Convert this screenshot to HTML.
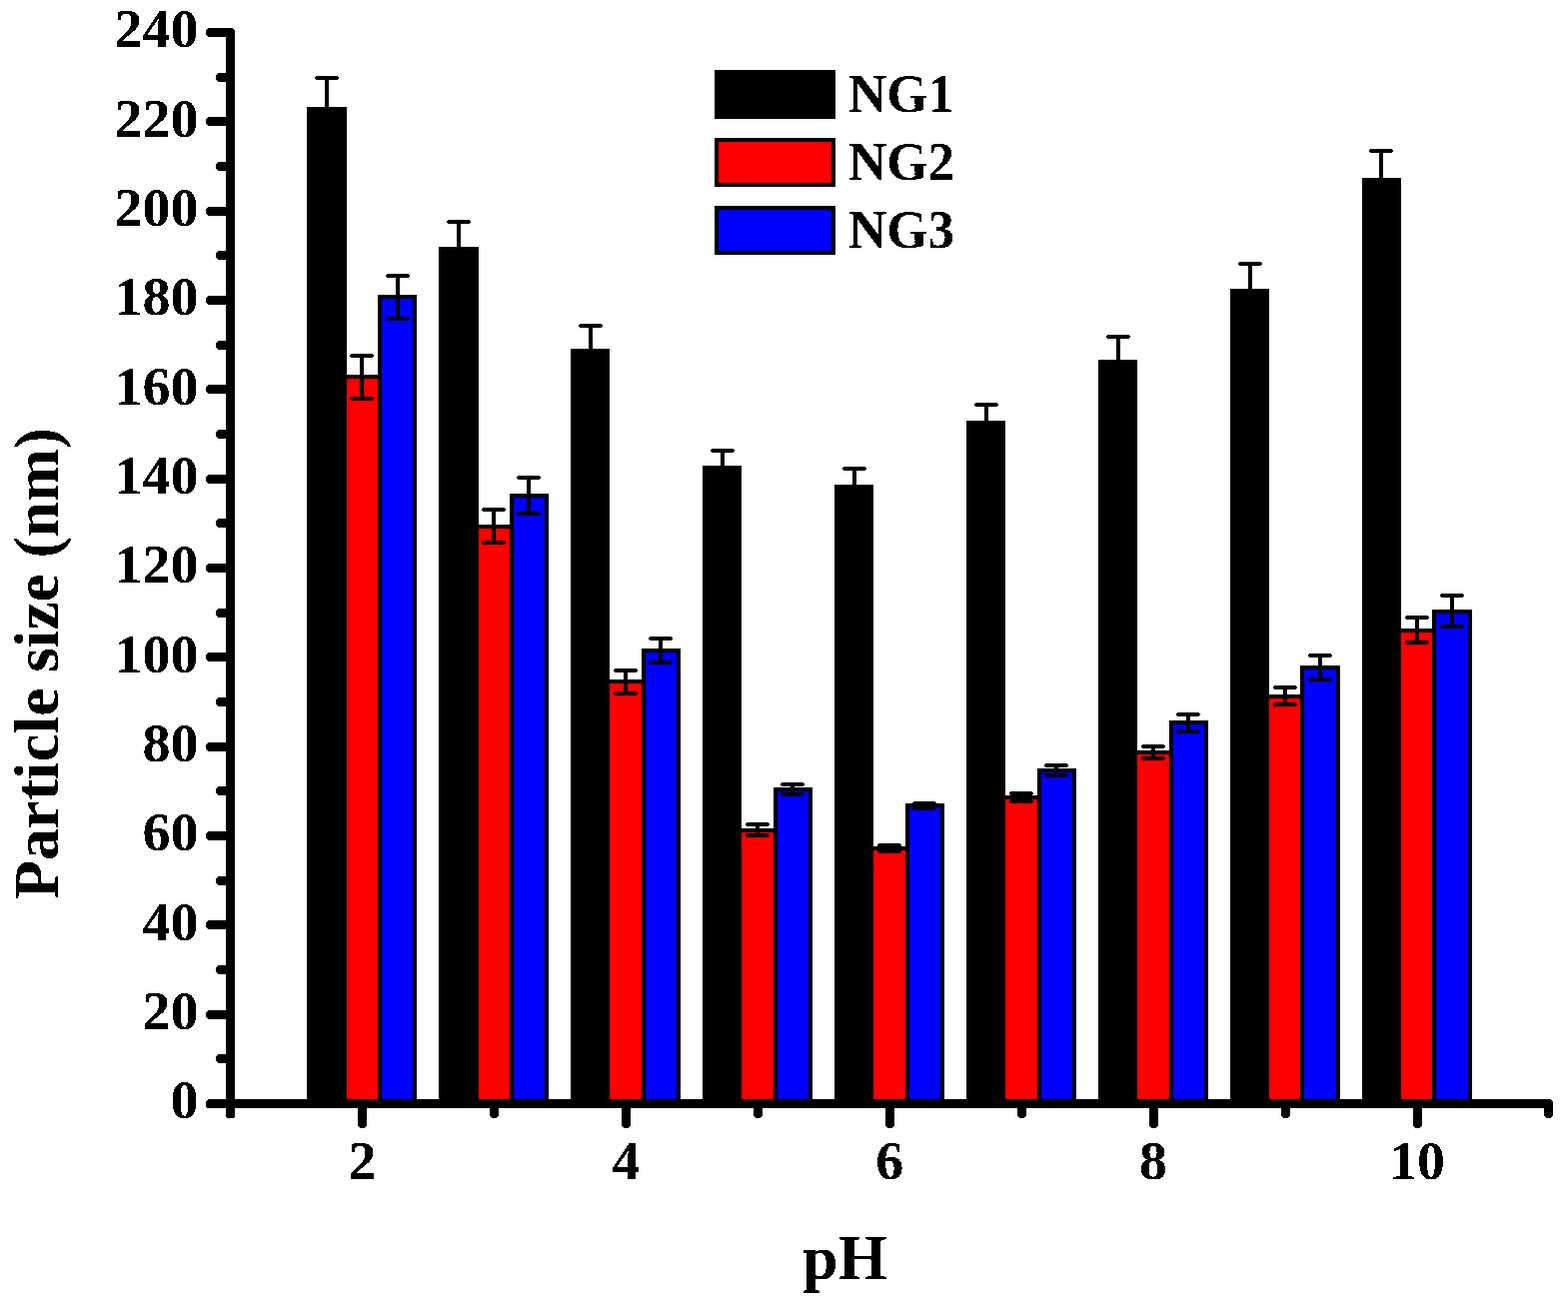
<!DOCTYPE html>
<html><head><meta charset="utf-8"><title>Particle size vs pH</title>
<style>
html,body{margin:0;padding:0;background:#fff;}
svg{display:block;}
text{font-family:"Liberation Serif","Times New Roman",serif;font-weight:bold;fill:#000;filter:url(#crisp);}
.t{font-size:53px;}
.a{font-size:63.4px;}
.l{font-size:53px;}
</style></head><body>
<svg width="1569" height="1309" viewBox="0 0 1569 1309" shape-rendering="crispEdges">
<defs><filter id="crisp" x="-5%" y="-5%" width="110%" height="110%"><feComponentTransfer><feFuncA type="discrete" tableValues="0 1"/></feComponentTransfer></filter></defs>
<rect x="0" y="0" width="1569" height="1309" fill="#fff"/>
<rect x="307" y="107" width="40" height="993" fill="#000"/>
<rect x="343" y="375" width="39" height="725" fill="#000"/>
<rect x="347" y="379" width="31" height="721" fill="#f00"/>
<rect x="378" y="295" width="39" height="805" fill="#000"/>
<rect x="382" y="299" width="31" height="801" fill="#00f"/>
<rect x="439" y="247" width="40" height="853" fill="#000"/>
<rect x="475" y="525" width="39" height="575" fill="#000"/>
<rect x="479" y="529" width="31" height="571" fill="#f00"/>
<rect x="510" y="494" width="39" height="606" fill="#000"/>
<rect x="514" y="498" width="31" height="602" fill="#00f"/>
<rect x="571" y="349" width="39" height="751" fill="#000"/>
<rect x="606" y="680" width="40" height="420" fill="#000"/>
<rect x="610" y="684" width="32" height="416" fill="#f00"/>
<rect x="642" y="649" width="39" height="451" fill="#000"/>
<rect x="646" y="653" width="31" height="447" fill="#00f"/>
<rect x="703" y="466" width="39" height="634" fill="#000"/>
<rect x="738" y="829" width="40" height="271" fill="#000"/>
<rect x="742" y="833" width="32" height="267" fill="#f00"/>
<rect x="774" y="788" width="39" height="312" fill="#000"/>
<rect x="778" y="792" width="31" height="308" fill="#00f"/>
<rect x="835" y="485" width="39" height="615" fill="#000"/>
<rect x="870" y="847" width="40" height="253" fill="#000"/>
<rect x="874" y="851" width="32" height="249" fill="#f00"/>
<rect x="906" y="804" width="39" height="296" fill="#000"/>
<rect x="910" y="808" width="31" height="292" fill="#00f"/>
<rect x="967" y="421" width="39" height="679" fill="#000"/>
<rect x="1002" y="796" width="40" height="304" fill="#000"/>
<rect x="1006" y="800" width="32" height="300" fill="#f00"/>
<rect x="1038" y="769" width="39" height="331" fill="#000"/>
<rect x="1042" y="773" width="31" height="327" fill="#00f"/>
<rect x="1099" y="360" width="39" height="740" fill="#000"/>
<rect x="1134" y="751" width="40" height="349" fill="#000"/>
<rect x="1138" y="755" width="32" height="345" fill="#f00"/>
<rect x="1170" y="721" width="39" height="379" fill="#000"/>
<rect x="1174" y="725" width="31" height="375" fill="#00f"/>
<rect x="1231" y="289" width="39" height="811" fill="#000"/>
<rect x="1266" y="695" width="39" height="405" fill="#000"/>
<rect x="1270" y="699" width="31" height="401" fill="#f00"/>
<rect x="1301" y="666" width="40" height="434" fill="#000"/>
<rect x="1305" y="670" width="32" height="430" fill="#00f"/>
<rect x="1363" y="178" width="39" height="922" fill="#000"/>
<rect x="1398" y="629" width="39" height="471" fill="#000"/>
<rect x="1402" y="633" width="31" height="467" fill="#f00"/>
<rect x="1433" y="610" width="40" height="490" fill="#000"/>
<rect x="1437" y="614" width="32" height="486" fill="#00f"/>
<rect x="325" y="76" width="4" height="35" fill="#000"/>
<path d="M316 76h22v1h1v2h-1v1h-22v-1h-1v-2h1z" fill="#000"/>
<rect x="360" y="354" width="4" height="47" fill="#000"/>
<path d="M351 354h22v1h1v2h-1v1h-22v-1h-1v-2h1z" fill="#000"/>
<path d="M351 397h22v1h1v2h-1v1h-22v-1h-1v-2h1z" fill="#000"/>
<rect x="396" y="274" width="4" height="47" fill="#000"/>
<path d="M387 274h22v1h1v2h-1v1h-22v-1h-1v-2h1z" fill="#000"/>
<path d="M387 317h22v1h1v2h-1v1h-22v-1h-1v-2h1z" fill="#000"/>
<rect x="457" y="220" width="4" height="31" fill="#000"/>
<path d="M448 220h22v1h1v2h-1v1h-22v-1h-1v-2h1z" fill="#000"/>
<rect x="492" y="508" width="4" height="37" fill="#000"/>
<path d="M483 508h22v1h1v2h-1v1h-22v-1h-1v-2h1z" fill="#000"/>
<path d="M483 541h22v1h1v2h-1v1h-22v-1h-1v-2h1z" fill="#000"/>
<rect x="527" y="476" width="4" height="40" fill="#000"/>
<path d="M518 476h22v1h1v2h-1v1h-22v-1h-1v-2h1z" fill="#000"/>
<path d="M518 512h22v1h1v2h-1v1h-22v-1h-1v-2h1z" fill="#000"/>
<rect x="589" y="324" width="4" height="29" fill="#000"/>
<path d="M580 324h22v1h1v2h-1v1h-22v-1h-1v-2h1z" fill="#000"/>
<rect x="624" y="669" width="4" height="27" fill="#000"/>
<path d="M615 669h22v1h1v2h-1v1h-22v-1h-1v-2h1z" fill="#000"/>
<path d="M615 692h22v1h1v2h-1v1h-22v-1h-1v-2h1z" fill="#000"/>
<rect x="659" y="637" width="4" height="28" fill="#000"/>
<path d="M650 637h22v1h1v2h-1v1h-22v-1h-1v-2h1z" fill="#000"/>
<path d="M650 661h22v1h1v2h-1v1h-22v-1h-1v-2h1z" fill="#000"/>
<rect x="721" y="449" width="4" height="21" fill="#000"/>
<path d="M712 449h22v1h1v2h-1v1h-22v-1h-1v-2h1z" fill="#000"/>
<rect x="756" y="823" width="4" height="15" fill="#000"/>
<path d="M747 823h22v1h1v2h-1v1h-22v-1h-1v-2h1z" fill="#000"/>
<path d="M747 834h22v1h1v2h-1v1h-22v-1h-1v-2h1z" fill="#000"/>
<rect x="791" y="783" width="4" height="14" fill="#000"/>
<path d="M782 783h22v1h1v2h-1v1h-22v-1h-1v-2h1z" fill="#000"/>
<path d="M782 793h22v1h1v2h-1v1h-22v-1h-1v-2h1z" fill="#000"/>
<rect x="853" y="467" width="4" height="22" fill="#000"/>
<path d="M844 467h22v1h1v2h-1v1h-22v-1h-1v-2h1z" fill="#000"/>
<rect x="888" y="844" width="4" height="10" fill="#000"/>
<path d="M879 844h22v1h1v2h-1v1h-22v-1h-1v-2h1z" fill="#000"/>
<path d="M879 850h22v1h1v2h-1v1h-22v-1h-1v-2h1z" fill="#000"/>
<rect x="923" y="802" width="4" height="9" fill="#000"/>
<path d="M914 802h22v1h1v2h-1v1h-22v-1h-1v-2h1z" fill="#000"/>
<path d="M914 807h22v1h1v2h-1v1h-22v-1h-1v-2h1z" fill="#000"/>
<rect x="985" y="403" width="4" height="22" fill="#000"/>
<path d="M976 403h22v1h1v2h-1v1h-22v-1h-1v-2h1z" fill="#000"/>
<rect x="1020" y="792" width="4" height="12" fill="#000"/>
<path d="M1011 792h22v1h1v2h-1v1h-22v-1h-1v-2h1z" fill="#000"/>
<path d="M1011 800h22v1h1v2h-1v1h-22v-1h-1v-2h1z" fill="#000"/>
<rect x="1055" y="764" width="4" height="14" fill="#000"/>
<path d="M1046 764h22v1h1v2h-1v1h-22v-1h-1v-2h1z" fill="#000"/>
<path d="M1046 774h22v1h1v2h-1v1h-22v-1h-1v-2h1z" fill="#000"/>
<rect x="1117" y="335" width="4" height="29" fill="#000"/>
<path d="M1108 335h22v1h1v2h-1v1h-22v-1h-1v-2h1z" fill="#000"/>
<rect x="1152" y="745" width="4" height="16" fill="#000"/>
<path d="M1143 745h22v1h1v2h-1v1h-22v-1h-1v-2h1z" fill="#000"/>
<path d="M1143 757h22v1h1v2h-1v1h-22v-1h-1v-2h1z" fill="#000"/>
<rect x="1187" y="713" width="4" height="21" fill="#000"/>
<path d="M1178 713h22v1h1v2h-1v1h-22v-1h-1v-2h1z" fill="#000"/>
<path d="M1178 730h22v1h1v2h-1v1h-22v-1h-1v-2h1z" fill="#000"/>
<rect x="1249" y="262" width="4" height="31" fill="#000"/>
<path d="M1240 262h22v1h1v2h-1v1h-22v-1h-1v-2h1z" fill="#000"/>
<rect x="1284" y="686" width="4" height="21" fill="#000"/>
<path d="M1275 686h22v1h1v2h-1v1h-22v-1h-1v-2h1z" fill="#000"/>
<path d="M1275 703h22v1h1v2h-1v1h-22v-1h-1v-2h1z" fill="#000"/>
<rect x="1319" y="654" width="4" height="28" fill="#000"/>
<path d="M1310 654h22v1h1v2h-1v1h-22v-1h-1v-2h1z" fill="#000"/>
<path d="M1310 678h22v1h1v2h-1v1h-22v-1h-1v-2h1z" fill="#000"/>
<rect x="1380" y="149" width="4" height="33" fill="#000"/>
<path d="M1371 149h22v1h1v2h-1v1h-22v-1h-1v-2h1z" fill="#000"/>
<rect x="1416" y="616" width="4" height="29" fill="#000"/>
<path d="M1407 616h22v1h1v2h-1v1h-22v-1h-1v-2h1z" fill="#000"/>
<path d="M1407 641h22v1h1v2h-1v1h-22v-1h-1v-2h1z" fill="#000"/>
<rect x="1451" y="594" width="4" height="35" fill="#000"/>
<path d="M1442 594h22v1h1v2h-1v1h-22v-1h-1v-2h1z" fill="#000"/>
<path d="M1442 625h22v1h1v2h-1v1h-22v-1h-1v-2h1z" fill="#000"/>
<rect x="226" y="28" width="9" height="1091" rx="3.5" fill="#000"/>
<rect x="206" y="1100" width="1348" height="9" rx="3.5" fill="#000"/>
<rect x="206" y="28" width="25" height="9" rx="4" fill="#000"/>
<rect x="206" y="117" width="25" height="9" rx="4" fill="#000"/>
<rect x="206" y="207" width="25" height="9" rx="4" fill="#000"/>
<rect x="206" y="296" width="25" height="9" rx="4" fill="#000"/>
<rect x="206" y="385" width="25" height="9" rx="4" fill="#000"/>
<rect x="206" y="475" width="25" height="9" rx="4" fill="#000"/>
<rect x="206" y="564" width="25" height="9" rx="4" fill="#000"/>
<rect x="206" y="653" width="25" height="9" rx="4" fill="#000"/>
<rect x="206" y="743" width="25" height="9" rx="4" fill="#000"/>
<rect x="206" y="832" width="25" height="9" rx="4" fill="#000"/>
<rect x="206" y="921" width="25" height="9" rx="4" fill="#000"/>
<rect x="206" y="1011" width="25" height="9" rx="4" fill="#000"/>
<rect x="206" y="1100" width="25" height="9" rx="4" fill="#000"/>
<rect x="216" y="73" width="15" height="9" rx="4" fill="#000"/>
<rect x="216" y="162" width="15" height="9" rx="4" fill="#000"/>
<rect x="216" y="251" width="15" height="9" rx="4" fill="#000"/>
<rect x="216" y="341" width="15" height="9" rx="4" fill="#000"/>
<rect x="216" y="430" width="15" height="9" rx="4" fill="#000"/>
<rect x="216" y="519" width="15" height="9" rx="4" fill="#000"/>
<rect x="216" y="609" width="15" height="9" rx="4" fill="#000"/>
<rect x="216" y="698" width="15" height="9" rx="4" fill="#000"/>
<rect x="216" y="787" width="15" height="9" rx="4" fill="#000"/>
<rect x="216" y="877" width="15" height="9" rx="4" fill="#000"/>
<rect x="216" y="966" width="15" height="9" rx="4" fill="#000"/>
<rect x="216" y="1055" width="15" height="9" rx="4" fill="#000"/>
<rect x="226" y="1104" width="9" height="15" rx="4" fill="#000"/>
<rect x="358" y="1104" width="9" height="25" rx="4" fill="#000"/>
<rect x="490" y="1104" width="9" height="15" rx="4" fill="#000"/>
<rect x="622" y="1104" width="9" height="25" rx="4" fill="#000"/>
<rect x="754" y="1104" width="9" height="15" rx="4" fill="#000"/>
<rect x="886" y="1104" width="9" height="25" rx="4" fill="#000"/>
<rect x="1018" y="1104" width="9" height="15" rx="4" fill="#000"/>
<rect x="1150" y="1104" width="9" height="25" rx="4" fill="#000"/>
<rect x="1282" y="1104" width="9" height="15" rx="4" fill="#000"/>
<rect x="1414" y="1104" width="9" height="25" rx="4" fill="#000"/>
<rect x="1545" y="1104" width="9" height="15" rx="4" fill="#000"/>
<text transform="translate(198.5,47.3) scale(1.057,1.026)" text-anchor="end" class="t">240</text>
<text transform="translate(198.5,136.6) scale(1.057,1.026)" text-anchor="end" class="t">220</text>
<text transform="translate(198.5,226.0) scale(1.057,1.026)" text-anchor="end" class="t">200</text>
<text transform="translate(198.5,315.3) scale(1.057,1.026)" text-anchor="end" class="t">180</text>
<text transform="translate(198.5,404.6) scale(1.057,1.026)" text-anchor="end" class="t">160</text>
<text transform="translate(198.5,494.0) scale(1.057,1.026)" text-anchor="end" class="t">140</text>
<text transform="translate(198.5,583.3) scale(1.057,1.026)" text-anchor="end" class="t">120</text>
<text transform="translate(198.5,672.6) scale(1.057,1.026)" text-anchor="end" class="t">100</text>
<text transform="translate(198.5,762.0) scale(1.057,1.026)" text-anchor="end" class="t">80</text>
<text transform="translate(198.5,851.3) scale(1.057,1.026)" text-anchor="end" class="t">60</text>
<text transform="translate(198.5,940.6) scale(1.057,1.026)" text-anchor="end" class="t">40</text>
<text transform="translate(198.5,1030.0) scale(1.057,1.026)" text-anchor="end" class="t">20</text>
<text transform="translate(198.5,1119.3) scale(1.057,1.026)" text-anchor="end" class="t">0</text>
<text transform="translate(362.5,1180) scale(1.057,1.026)" text-anchor="middle" class="t">2</text>
<text transform="translate(626.4,1180) scale(1.057,1.026)" text-anchor="middle" class="t">4</text>
<text transform="translate(890.3,1180) scale(1.057,1.026)" text-anchor="middle" class="t">6</text>
<text transform="translate(1154.1,1180) scale(1.057,1.026)" text-anchor="middle" class="t">8</text>
<text transform="translate(1418.0,1180) scale(1.057,1.026)" text-anchor="middle" class="t">10</text>
<text x="845.5" y="1280" text-anchor="middle" class="a">pH</text>
<text transform="translate(58,664) rotate(-90)" x="0" y="0" text-anchor="middle" class="a">Particle size (nm)</text>
<rect x="715" y="70" width="121" height="49" fill="#000"/>
<text transform="translate(849,112) scale(1,1.03)" class="l">NG1</text>
<rect x="715" y="138" width="121" height="49" fill="#000"/>
<rect x="719" y="142" width="113" height="41" fill="#f00"/>
<text transform="translate(849,180) scale(1,1.03)" class="l">NG2</text>
<rect x="715" y="206" width="121" height="49" fill="#000"/>
<rect x="719" y="210" width="113" height="41" fill="#00f"/>
<text transform="translate(849,248) scale(1,1.03)" class="l">NG3</text>
</svg>
</body></html>
